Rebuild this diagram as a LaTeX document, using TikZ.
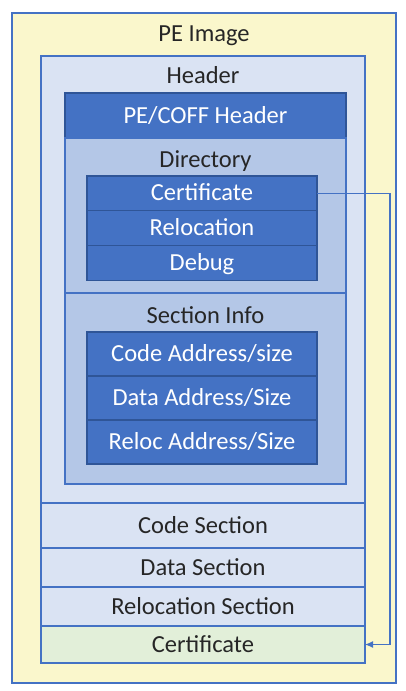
\documentclass[tikz,border=0pt]{standalone}
\usepackage{fontspec}
\setmainfont{Carlito}
\usetikzlibrary{positioning,arrows.meta}

\definecolor{peyellow}{RGB}{250,247,204}
\definecolor{peedge}{RGB}{68,114,196}
\definecolor{pedeep}{RGB}{47,85,151}
\definecolor{pelight}{RGB}{218,227,243}
\definecolor{pemid}{RGB}{180,199,231}
\definecolor{pedark}{RGB}{68,114,196}
\definecolor{pegreen}{RGB}{226,239,217}
\definecolor{petext}{RGB}{38,38,38}

\begin{document}
\begin{tikzpicture}[
  x=1pt,y=-1pt,
  font=\fontsize{24.5}{28}\selectfont,
  >={Latex[length=8pt,width=7pt]},
  box/.style={draw=peedge,line width=1.2pt,anchor=north west,inner sep=0pt,outer sep=0pt,
              text height=16.5pt,text depth=1.5pt,align=center,text=petext},
  ttl/.style={anchor=base,inner sep=0pt,text=petext},
  dark/.style={box,draw=pedeep,fill=pedark,text=white},
  drow/.style={dark,minimum width=230,minimum height=34.7},
  srow/.style={dark,minimum width=230,minimum height=44},
  mid/.style={box,fill=pemid,minimum width=281},
  sec/.style={box,fill=pelight,minimum width=324},
  flow/.style={->,draw=peedge,line width=1.1pt},
]
\useasboundingbox (0,0) rectangle (406,691);

% --- PE image and header ---
\node[box,fill=peyellow,minimum width=384,minimum height=670] (img) at (12,13) {};
\node[ttl] (imgt) at (204,41) {PE Image};
\node[sec,minimum height=447] (hdr) at (41,56) {};
\node[ttl] (hdrt) at (203,83) {Header};
\node[dark,minimum width=281,minimum height=45] (coff) at (65,93) {PE/COFF Header};

% --- directory ---
\node[mid,minimum height=155,below=0pt of coff] (dir) {};
\node[ttl] (dirt) at (205.5,167) {Directory};
\node[drow] (dcert) at (87,176) {Certificate};
\node[drow,below=0pt of dcert] (dreloc) {Relocation};
\node[drow,below=0pt of dreloc] (ddbg) {Debug};

% --- section info ---
\node[mid,minimum height=191,below=0pt of dir] (sinfo) {};
\node[ttl] (sinfot) at (205.5,323) {Section Info};
\node[srow] (scode) at (87,332) {Code Address/size};
\node[srow,below=0pt of scode] (sdata) {Data Address/Size};
\node[srow,below=0pt of sdata] (sreloc) {Reloc Address/Size};

% --- sections ---
\node[sec,minimum height=45] (code) at (41,503) {Code Section};
\node[sec,minimum height=39,below=0pt of code] (data) {Data Section};
\node[sec,minimum height=39,below=0pt of data] (reloc) {Relocation Section};
\node[sec,fill=pegreen,minimum height=37,below=0pt of reloc] (cert) {Certificate};

% --- arrow ---
\coordinate (bend) at (390,0);
\draw[flow] (dcert.east) -- (dcert.east -| bend) |- (cert.east);

\end{tikzpicture}
\end{document}
